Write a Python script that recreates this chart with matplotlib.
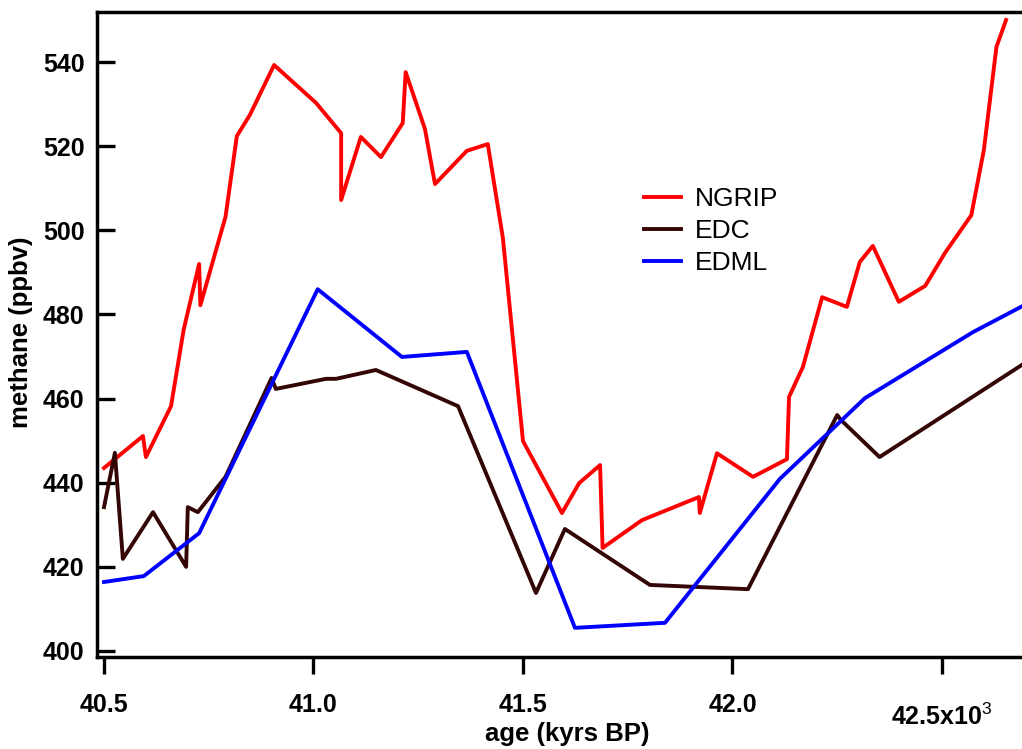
import matplotlib
matplotlib.use("Agg")
import matplotlib.pyplot as plt
import matplotlib.transforms as mtransforms

plt.rcParams['font.family'] = ['Liberation Sans', 'DejaVu Sans']
plt.rcParams['mathtext.fontset'] = 'custom'
plt.rcParams['mathtext.rm'] = 'Liberation Sans'
plt.rcParams['mathtext.bf'] = 'Liberation Sans:bold'

# methane records, age in kyrs BP
ngrip_age = [40.50, 40.593, 40.60, 40.66, 40.69, 40.727, 40.73, 40.79, 40.817, 40.848,
             40.906, 41.006, 41.066, 41.066, 41.113, 41.161, 41.213, 41.22, 41.266, 41.29,
             41.366, 41.416, 41.452, 41.50, 41.593, 41.634, 41.684, 41.69, 41.784, 41.92,
             41.922, 41.963, 42.049, 42.13, 42.135, 42.168, 42.214, 42.273, 42.304, 42.335,
             42.397, 42.46, 42.507, 42.57, 42.60, 42.63, 42.653]
ngrip_ch4 = [443.5, 451.1, 446.1, 458.2, 476.3, 492.0, 482.2, 503.2, 522.4, 527.4,
             539.3, 530.3, 523.1, 507.2, 522.2, 517.4, 525.5, 537.6, 524.1, 511.0,
             518.9, 520.5, 498.2, 449.9, 432.8, 439.9, 444.2, 424.5, 431.1, 436.6,
             432.8, 447.0, 441.4, 445.6, 460.4, 467.5, 484.1, 481.8, 492.5, 496.3,
             483.0, 486.8, 494.6, 503.6, 519.1, 543.6, 550.0]

edc_age = [40.50, 40.526, 40.545, 40.617, 40.696, 40.70, 40.724, 40.79, 40.90, 40.91,
           41.03, 41.054, 41.149, 41.345, 41.531, 41.60, 41.803, 42.037, 42.25, 42.258,
           42.351, 42.70]
edc_ch4 = [434.2, 447.1, 421.9, 433.0, 420.0, 434.2, 433.0, 441.4, 464.9, 462.3,
           464.7, 464.7, 466.8, 458.2, 413.8, 429.0, 415.7, 414.7, 456.1, 455.0,
           446.1, 468.6]

edml_age = [40.50, 40.595, 40.727, 41.01, 41.211, 41.366, 41.624, 41.839, 42.113, 42.316,
            42.574, 42.70]
edml_ch4 = [416.4, 417.8, 428.0, 486.0, 469.9, 471.1, 405.5, 406.7, 440.9, 460.1,
            475.8, 482.4]

xticks = [40.5, 41.0, 41.5, 42.0, 42.5]
xtick_labels = ["40.5", "41.0", "41.5", "42.0", ""]
last_label = "42.5x10$^{3}$"
yticks = [400, 420, 440, 460, 480, 500, 520, 540]

fig = plt.figure(figsize=(10.22, 7.49), dpi=100)
ax = fig.add_axes([97/1022, 92/749, 925/1022, 645/749])

lw = 2.8
ax.plot(ngrip_age, ngrip_ch4, color='#ff0000', lw=lw, label='NGRIP')
ax.plot(edc_age, edc_ch4, color='#330505', lw=lw, label='EDC')
ax.plot(edml_age, edml_ch4, color='#0000ff', lw=lw, label='EDML')

ax.set_xlim(40.4833, 42.691)
ax.set_ylim(398.57, 551.9)

ax.set_xticks(xticks)
ax.set_xticklabels(xtick_labels, fontsize=18, fontweight='bold')
ax.set_yticks(yticks)
ax.set_yticklabels([str(v) for v in yticks], fontsize=18, fontweight='bold')

ax.tick_params(axis='x', direction='out', length=12, width=2.4, pad=14)
ax.tick_params(axis='y', direction='in', length=13, width=2.4, pad=9)

# last tick label sits a little lower, as in the original
trans = mtransforms.blended_transform_factory(ax.transData, ax.transAxes)
ax.text(xticks[-1], -0.073, last_label, transform=trans, ha='center', va='top',
        fontsize=18, fontweight='bold')

for side in ['left', 'top', 'bottom']:
    ax.spines[side].set_linewidth(2.5)
ax.spines['right'].set_visible(False)

ax.set_xlabel("age (kyrs BP)", fontsize=18.5, fontweight='bold')
ax.set_ylabel("methane (ppbv)", fontsize=18.5, fontweight='bold')
ax.xaxis.set_label_coords(0.508, -0.101)
ax.yaxis.set_label_coords(-0.069, 0.504)

ax.legend(loc='upper left', bbox_to_anchor=(0.566, 0.765), frameon=False,
          fontsize=19, handlelength=1.4, handletextpad=0.5, labelspacing=0.3)

fig.savefig("out.png", dpi=100)
